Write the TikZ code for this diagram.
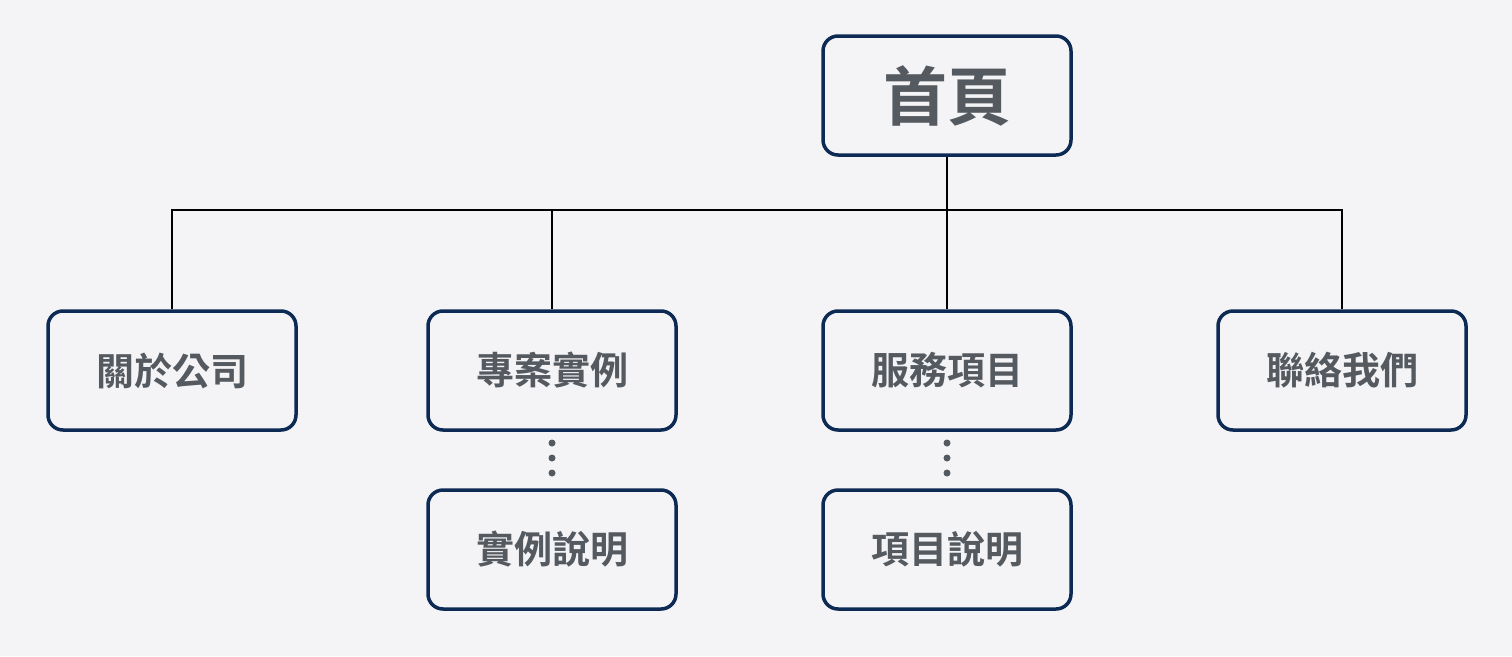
\documentclass[tikz,border=0pt]{standalone}
\usepackage{fontspec}
\newfontfamily\cjk{Noto Sans CJK TC}[BoldFont={Noto Sans CJK TC Bold}]
\definecolor{bg}{HTML}{F4F4F6}
\definecolor{navy}{HTML}{0D2A55}
\definecolor{txt}{HTML}{555A60}
\begin{document}
\begin{tikzpicture}[x=1pt,y=-1pt,
  box/.style={draw=navy,line width=3.5pt,rounded corners=15pt,fill=bg,minimum width=248pt,minimum height=119pt,text=txt,font=\cjk\bfseries\fontsize{38}{40}\selectfont,inner sep=0pt},
  conn/.style={line width=2pt,black},
  dot/.style={circle,fill=txt,inner sep=0pt,minimum size=7pt}]
\fill[bg] (0,0) rectangle (1512,656);
\useasboundingbox (0,0) rectangle (1512,656);
\node[box,font=\cjk\bfseries\fontsize{64}{66}\selectfont] (home) at (947,95.5) {首頁};
\node[box] (about) at (172,370.5) {關於公司};
\node[box] (cases) at (552,370.5) {專案實例};
\node[box] (serv) at (947,370.5) {服務項目};
\node[box] (contact) at (1342,370.5) {聯絡我們};
\node[box] (casedesc) at (552,549.5) {實例說明};
\node[box] (servdesc) at (947,549.5) {項目說明};
\coordinate (hl) at (172,210);
\coordinate (hr) at (1342,210);
\draw[conn] (home.south) -- (serv.north);
\draw[conn] (about.north) -- (hl) -- (hr) -- (contact.north);
\draw[conn] (cases.north) -- (552,210);
\foreach \x/\n in {552/a,947/b}{
  \node[dot] (\n1) at (\x,443) {};
  \node[dot] (\n2) at (\x,458) {};
  \node[dot] (\n3) at (\x,473) {};
}
\end{tikzpicture}
\end{document}
